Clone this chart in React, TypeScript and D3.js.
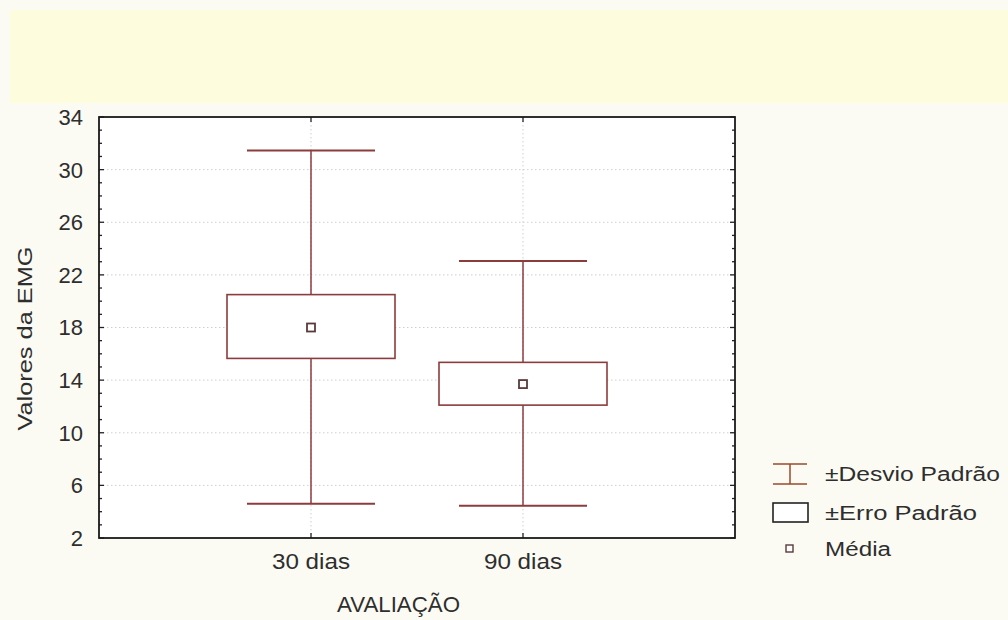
import React from "react";
import * as d3 from "d3";

const categories = ["30 dias", "90 dias"];
const means = [18.0, 13.7];
const seLow = [15.65, 12.1];
const seHigh = [20.5, 15.35];
const sdLow = [4.6, 4.45];
const sdHigh = [31.45, 23.05];
const yTicks = [2, 6, 10, 14, 18, 22, 26, 30, 34];
const legendLabels = ["±Desvio Padrão", "±Erro Padrão", "Média"];

const W = 1008, H = 620;
const left = 99, right = 735, top = 117, bottom = 538;
const stroke = "#8c3c3c";
const font = "'Liberation Sans', Arial, sans-serif";
const textColor = "#2e2e2e";

export default function App() {
  const y = d3.scaleLinear().domain([2, 34]).range([bottom, top]);
  const x = d3.scalePoint().domain(categories).range([left, right]).padding(1);
  const minor = d3.range(2, 35, 1);
  const boxHalf = 84, capHalf = 64;
  const legendY = [474, 513, 549];
  const legendLen = [175, 152, 66];
  return (
    <svg width={W} height={H} style={{ position: "absolute", left: 0, top: 0, display: "block" }}>
      <rect x={0} y={0} width={W} height={H} fill="#fbfbf3" />
      <rect x={10} y={10} width={W - 10} height={93} fill="#fdfcdc" />
      <rect x={left} y={top} width={right - left} height={bottom - top} fill="#ffffff" />
      {yTicks.slice(1, -1).map((t) => (
        <line key={"g" + t} x1={left} x2={right} y1={y(t)} y2={y(t)} stroke="#cfcfcf" strokeWidth={1} strokeDasharray="1.5,2.5" />
      ))}
      {categories.map((c) => (
        <line key={"gv" + c} x1={x(c)!} x2={x(c)!} y1={top} y2={bottom} stroke="#cfcfcf" strokeWidth={1} strokeDasharray="1.5,2.5" />
      ))}
      {minor.map((t) => (
        <g key={"m" + t}>
          <line x1={left} x2={left + (t % 4 === 2 ? 5 : 3)} y1={y(t)} y2={y(t)} stroke="#222" strokeWidth={1.3} />
          <line x1={right} x2={right - (t % 4 === 2 ? 5 : 3)} y1={y(t)} y2={y(t)} stroke="#222" strokeWidth={1.3} />
        </g>
      ))}
      {categories.map((c) => (
        <g key={"xt" + c}>
          <line x1={x(c)!} x2={x(c)!} y1={bottom} y2={bottom - 5} stroke="#222" strokeWidth={1.3} />
          <line x1={x(c)!} x2={x(c)!} y1={top} y2={top + 5} stroke="#222" strokeWidth={1.3} />
        </g>
      ))}
      {categories.map((c, i) => {
        const cx = x(c)!;
        return (
          <g key={"d" + c}>
            <line x1={cx} x2={cx} y1={y(sdHigh[i])} y2={y(seHigh[i])} stroke={stroke} strokeWidth={1.5} />
            <line x1={cx} x2={cx} y1={y(seLow[i])} y2={y(sdLow[i])} stroke={stroke} strokeWidth={1.5} />
            <line x1={cx - capHalf} x2={cx + capHalf} y1={y(sdHigh[i])} y2={y(sdHigh[i])} stroke={stroke} strokeWidth={2} />
            <line x1={cx - capHalf} x2={cx + capHalf} y1={y(sdLow[i])} y2={y(sdLow[i])} stroke={stroke} strokeWidth={2} />
            <rect x={cx - boxHalf} y={y(seHigh[i])} width={boxHalf * 2} height={y(seLow[i]) - y(seHigh[i])} fill="#ffffff" stroke={stroke} strokeWidth={1.6} />
            <rect x={cx - 4} y={y(means[i]) - 4} width={8} height={8} fill="#ffffff" stroke="#5a3a3a" strokeWidth={1.8} />
          </g>
        );
      })}
      <rect x={left} y={top} width={right - left} height={bottom - top} fill="none" stroke="#1a1a1a" strokeWidth={1.8} />
      {yTicks.map((t) => (
        <text key={"yl" + t} x={83} y={y(t)} dy="0.36em" textAnchor="end" fontFamily={font} fontSize={22} fill={textColor}>
          {t}
        </text>
      ))}
      {categories.map((c) => (
        <text key={"xl" + c} x={x(c)!} y={569} textAnchor="middle" fontFamily={font} fontSize={22} fill={textColor} textLength={78} lengthAdjust="spacingAndGlyphs">
          {c}
        </text>
      ))}
      <text x={337} y={612} fontFamily={font} fontSize={22} fill={textColor} textLength={123} lengthAdjust="spacingAndGlyphs">
        AVALIAÇÃO
      </text>
      <text transform={`translate(32,${y(18) + 103}) rotate(-90)`} x={0} y={0} fontFamily={font} fontSize={21} fill={textColor} textLength={184} lengthAdjust="spacingAndGlyphs">
        Valores da EMG
      </text>
      <g>
        <line x1={790} x2={790} y1={464} y2={484} stroke="#9a4a2e" strokeWidth={1.5} />
        <line x1={773} x2={807} y1={464} y2={464} stroke="#9a4a2e" strokeWidth={1.5} />
        <line x1={773} x2={807} y1={484} y2={484} stroke="#9a4a2e" strokeWidth={1.5} />
        <rect x={773} y={503} width={35} height={19} fill="#ffffff" stroke="#222" strokeWidth={1.6} />
        <rect x={786} y={545} width={7} height={7} fill="#ffffff" stroke="#5a3a3a" strokeWidth={1.4} />
        {legendLabels.map((l, i) => (
          <text key={l} x={825} y={legendY[i] + 7} fontFamily={font} fontSize={20} fill={textColor} textLength={legendLen[i]} lengthAdjust="spacingAndGlyphs">
            {l}
          </text>
        ))}
      </g>
    </svg>
  );
}
